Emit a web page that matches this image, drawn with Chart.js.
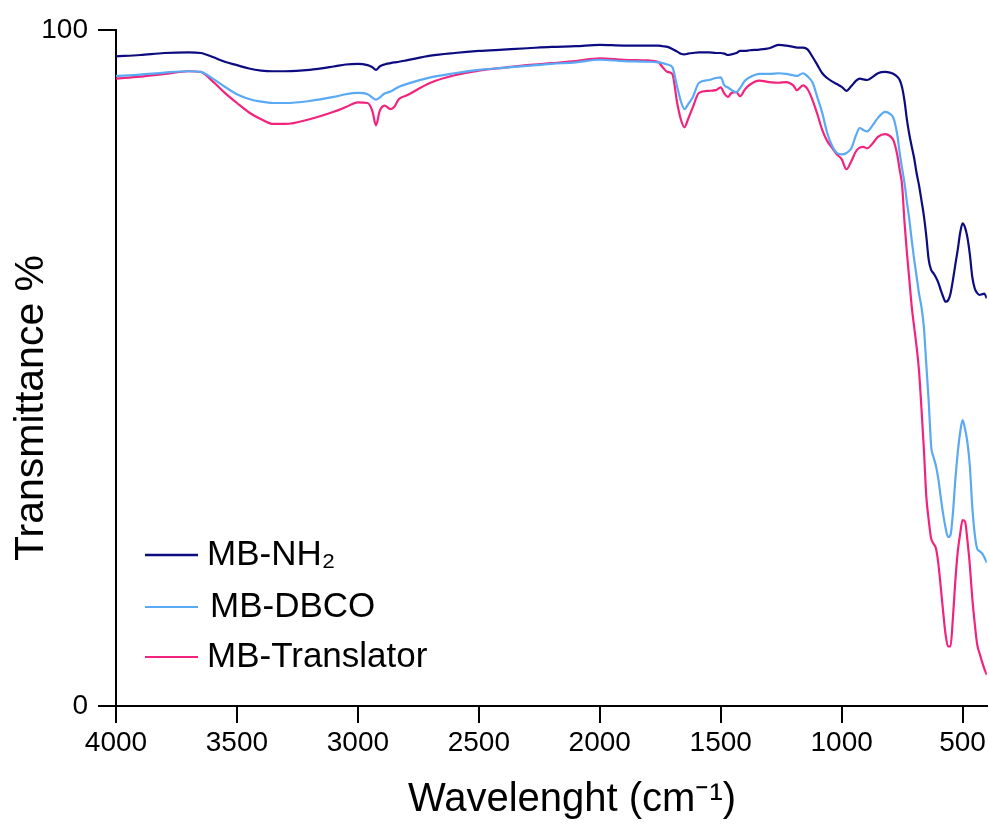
<!DOCTYPE html>
<html>
<head>
<meta charset="utf-8">
<script src="https://cdn.jsdelivr.net/npm/chart.js@4.4.1/dist/chart.umd.min.js"></script>
<style>
  html, body { margin: 0; padding: 0; background: #fff; }
  #wrap { width: 989px; height: 829px; }
</style>
</head>
<body>
<div id="wrap"><canvas id="ftir"></canvas></div>
<script>
/* ── FTIR spectra: MB-NH2 / MB-DBCO / MB-Translator ─────────────────── */
const wavenumbers = [
  4000, 3900, 3800, 3700, 3650, 3600, 3550, 3500, 3450, 3400, 3350, 3300, 3200, 3100, 3050,
  3000, 2960, 2940, 2925, 2910, 2890, 2865, 2850, 2830, 2800, 2700, 2600, 2500, 2400, 2300,
  2200, 2100, 2000, 1900, 1800, 1760, 1740, 1720, 1700, 1680, 1665, 1650, 1635, 1615, 1590,
  1550, 1520, 1500, 1485, 1470, 1455, 1435, 1420, 1400, 1380, 1340, 1300, 1260, 1230, 1200,
  1185, 1160, 1140, 1120, 1100, 1080, 1060, 1040, 1020, 1000, 980, 960, 940, 925, 910,
  895, 870, 850, 820, 800, 785, 770,
  760, 750, 740, 730, 720, 710, 700, 690, 680, 670, 660, 650, 640, 630, 620, 610, 600,
  590, 580, 570, 560, 550, 540, 530, 520, 510, 500, 490, 480, 470, 460, 450, 440, 430,
  420, 410, 400
];

const mbNH2 = [
  96.1, 96.3, 96.6, 96.7, 96.6, 96.0, 95.3, 94.8, 94.3, 94.0, 93.9, 93.9, 94.1, 94.6, 94.9,
  95.0, 94.8, 94.5, 94.1, 94.6, 94.9, 95.1, 95.2, 95.3, 95.5, 96.2, 96.6, 96.9, 97.1, 97.3,
  97.5, 97.6, 97.8, 97.7, 97.7, 97.7, 97.6, 97.5, 97.2, 96.8, 96.5, 96.4, 96.5, 96.6, 96.7,
  96.7, 96.6, 96.6, 96.5, 96.3, 96.4, 96.6, 96.9, 96.9, 97.0, 97.1, 97.3, 97.8, 97.7, 97.5,
  97.4, 97.4, 97.1, 96.0, 94.8, 93.6, 92.9, 92.4, 92.0, 91.6, 91.0, 91.7, 92.5, 92.8, 92.7,
  92.6, 93.1, 93.6, 93.8, 93.7, 93.5, 93.1,
  92.6, 91.5, 89.5, 86.7, 84.5, 82.7, 81.0, 78.8, 77.0, 74.8, 72.5, 69.5, 66.0, 64.5, 64.0, 63.4, 62.6,
  61.5, 60.5, 59.8, 60.0, 61.0, 63.0, 65.3, 67.5, 70.0, 71.4, 70.8, 69.3, 66.8, 63.5, 61.8, 61.1, 60.8,
  60.9, 61.0, 60.3
];

const mbDBCO = [
  93.2, 93.4, 93.7, 93.9, 93.8, 92.8, 91.6, 90.5, 89.8, 89.4, 89.2, 89.2, 89.5, 90.1, 90.5,
  90.7, 90.5, 90.0, 89.7, 90.0, 90.6, 90.9, 91.2, 91.6, 92.0, 93.0, 93.6, 94.1, 94.4, 94.7,
  95.0, 95.2, 95.6, 95.4, 95.3, 95.2, 95.1, 94.9, 94.5, 91.6, 89.5, 88.3, 89.0, 90.1, 92.2,
  92.6, 92.9, 93.0, 91.8, 91.5, 91.1, 90.8, 91.4, 92.5, 93.0, 93.5, 93.5, 93.6, 93.5, 93.3,
  93.2, 93.6, 93.1, 92.2, 90.0, 87.7, 84.8, 82.9, 81.8, 81.6, 81.8, 82.5, 84.5, 85.5, 85.2,
  85.0, 86.0, 87.0, 87.9, 87.6, 86.9, 84.5,
  81.8, 79.5, 77.3, 74.5, 71.9, 68.8, 66.0, 63.5, 61.0, 59.0, 56.0, 50.5, 45.0, 38.5, 36.8, 35.5, 33.5,
  30.8, 28.3, 26.3, 25.0, 25.3, 28.5, 33.5, 37.5, 40.5, 42.3, 41.0, 39.0, 35.5, 29.5, 25.5, 23.3, 22.9,
  22.6, 22.0, 21.2
];

const mbTranslator = [
  92.8, 93.1, 93.5, 93.9, 93.8, 92.4, 90.7, 89.2, 87.8, 86.8, 86.1, 86.1, 86.8, 87.9, 88.6,
  89.3, 89.2, 88.0, 85.9, 88.0, 88.8, 88.3, 88.6, 89.8, 90.3, 92.2, 93.3, 94.0, 94.4, 94.8,
  95.1, 95.4, 95.8, 95.6, 95.5, 95.3, 94.5, 93.8, 93.5, 89.2, 86.8, 85.6, 86.8, 88.6, 90.7,
  91.0, 91.1, 91.5, 90.6, 90.1, 90.7, 90.8, 90.2, 91.2, 91.9, 92.5, 92.3, 92.2, 92.3, 91.8,
  91.1, 91.8, 91.2, 89.6, 87.5, 85.2, 83.6, 82.6, 81.6, 80.9, 79.4, 80.6, 82.1, 82.6, 82.7,
  82.5, 83.3, 84.2, 84.6, 84.3, 83.6, 81.5,
  79.3, 77.0, 71.5, 67.0, 63.0, 59.0, 56.0, 53.1, 49.5, 44.0, 38.0, 31.0, 27.5, 24.8, 24.0, 23.3, 21.0,
  17.5, 13.8, 10.5, 8.8, 8.8, 13.0, 18.5, 22.8, 25.5, 27.5, 27.3, 24.5, 20.8, 16.0, 12.3, 9.2, 7.8,
  6.6, 5.5, 4.6
];

const seriesNames  = ['MB-NH\u2082', 'MB-DBCO', 'MB-Translator'];
const seriesColors = ['#0c0c80', '#5aa9f5', '#f2237d'];
const xTicks = [4000, 3500, 3000, 2500, 2000, 1500, 1000, 500];
const yTicks = [0, 100];
const xTitle = 'Wavelenght (cm\u207B\u00B9)';
const yTitle = 'Transmittance %';

const FONT = "'Liberation Sans', Arial, sans-serif";

function toPoints(values) {
  return wavenumbers.map(function(w, i) { return { x: w, y: values[i] }; });
}

// legend drawn inside the plot (lower left) + axis titles, placed as in the figure
const figureText = {
  id: 'figureText',
  afterDraw: function(chart) {
    const ctx = chart.ctx;
    const area = chart.chartArea;
    const rows = [151, 99, 49];
    ctx.save();
    ctx.fillStyle = '#000';

    // legend
    ctx.font = '35px ' + FONT;
    ctx.textBaseline = 'middle';
    ctx.textAlign = 'left';
    chart.data.datasets.forEach(function(ds, i) {
      const y = area.bottom - rows[i];
      ctx.strokeStyle = ds.borderColor;
      ctx.lineWidth = i === 0 ? 2.5 : 2;
      ctx.beginPath();
      ctx.moveTo(area.left + 29, y);
      ctx.lineTo(area.left + 82, y);
      ctx.stroke();
      ctx.fillText(ds.label, area.left + 91 + (i === 1 ? 3 : 0), y);
    });

    // x title
    ctx.font = '40px ' + FONT;
    ctx.textAlign = 'center';
    ctx.textBaseline = 'alphabetic';
    ctx.fillText(xTitle, 572, 811);

    // y title
    ctx.translate(43, 408);
    ctx.rotate(-Math.PI / 2);
    ctx.font = '41px ' + FONT;
    ctx.fillText(yTitle, 0, 0);
    ctx.restore();
  }
};

const datasets = [mbNH2, mbDBCO, mbTranslator].map(function(vals, i) {
  return {
    label: seriesNames[i],
    data: toPoints(vals),
    borderColor: seriesColors[i],
    backgroundColor: seriesColors[i],
    borderWidth: 2.2,
    pointRadius: 0,
    fill: false,
    cubicInterpolationMode: 'monotone'
  };
});

new Chart(document.getElementById('ftir'), {
  type: 'line',
  data: { datasets: datasets },
  plugins: [figureText],
  options: {
    responsive: true,
    maintainAspectRatio: false,
    animation: false,
    layout: { padding: { left: 0, right: 2, top: 30, bottom: 0 } },
    plugins: {
      legend: { display: false },
      tooltip: { enabled: false }
    },
    scales: {
      x: {
        type: 'linear',
        reverse: true,
        min: 400,
        max: 4000,
        afterBuildTicks: function(scale) {
          scale.ticks = xTicks.map(function(v) { return { value: v }; });
        },
        afterFit: function(scale) { scale.height = 123; },
        ticks: {
          color: '#000',
          padding: 3,
          maxRotation: 0,
          font: { family: FONT, size: 28 },
          callback: function(v) { return String(v); }
        },
        grid: {
          drawOnChartArea: false,
          drawTicks: true,
          tickLength: 17,
          color: '#000',
          lineWidth: 2
        },
        border: { display: true, color: '#000', width: 2 },
        title: { display: false }
      },
      y: {
        min: 0,
        max: 100,
        afterBuildTicks: function(scale) {
          scale.ticks = yTicks.map(function(v) { return { value: v }; });
        },
        afterFit: function(scale) { scale.width = 116; },
        ticks: {
          color: '#000',
          padding: 10,
          font: { family: FONT, size: 28 },
          callback: function(v) { return String(v); }
        },
        grid: {
          drawOnChartArea: false,
          drawTicks: true,
          tickLength: 18,
          color: '#000',
          lineWidth: 2
        },
        border: { display: true, color: '#000', width: 2 },
        title: { display: false }
      }
    }
  }
});
</script>
</body>
</html>
